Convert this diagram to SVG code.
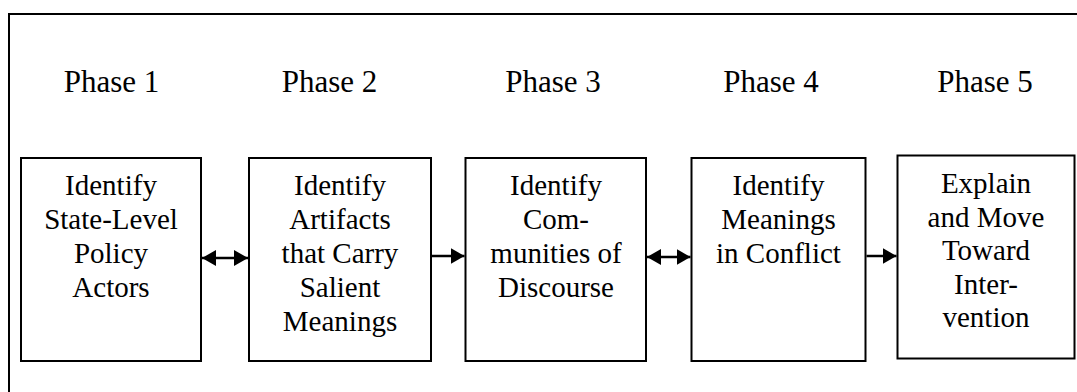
<svg xmlns="http://www.w3.org/2000/svg" width="1077" height="392" viewBox="0 0 1077 392">
<style>
.frame{fill:none;stroke:#000;stroke-width:2}
.box{fill:#fff;stroke:#000;stroke-width:2}
.ph{font-family:"Liberation Serif","Times New Roman",serif;font-size:31px;fill:#000;text-anchor:middle}
.t{font-family:"Liberation Serif","Times New Roman",serif;font-size:29px;fill:#000;text-anchor:middle}
.c{stroke:#000;stroke-width:2.5;fill:none}
</style>
<defs>
<marker id="ah" viewBox="0 0 14 16" refX="14" refY="8" markerWidth="14" markerHeight="16" markerUnits="userSpaceOnUse" orient="auto-start-reverse">
<path d="M0,0 L14,8 L0,16 Z" fill="#000"/>
</marker>
</defs>
<rect width="1077" height="392" fill="#fff"/>
<rect class="frame" x="9" y="14" width="1090" height="400"/>
<g id="phases">
<text class="ph" x="111.5" y="92">Phase 1</text>
<text class="ph" x="329.5" y="92">Phase 2</text>
<text class="ph" x="553" y="92">Phase 3</text>
<text class="ph" x="771" y="92">Phase 4</text>
<text class="ph" x="985" y="92">Phase 5</text>
</g>
<g id="node1">
<rect class="box" x="21" y="158" width="180" height="203"/>
<text class="t" x="111" y="195">Identify</text>
<text class="t" x="111" y="229">State-Level</text>
<text class="t" x="111" y="263">Policy</text>
<text class="t" x="111" y="297">Actors</text>
</g>
<g id="node2">
<rect class="box" x="249" y="158" width="182" height="203"/>
<text class="t" x="340" y="195">Identify</text>
<text class="t" x="340" y="229">Artifacts</text>
<text class="t" x="340" y="263">that Carry</text>
<text class="t" x="340" y="297">Salient</text>
<text class="t" x="340" y="331">Meanings</text>
</g>
<g id="node3">
<rect class="box" x="465.5" y="158" width="180.5" height="203"/>
<text class="t" x="556" y="195">Identify</text>
<text class="t" x="556" y="229">Com-</text>
<text class="t" x="556" y="263">munities of</text>
<text class="t" x="556" y="297">Discourse</text>
</g>
<g id="node4">
<rect class="box" x="691.5" y="158" width="174" height="203"/>
<text class="t" x="778.5" y="195">Identify</text>
<text class="t" x="778.5" y="229">Meanings</text>
<text class="t" x="778.5" y="263">in Conflict</text>
</g>
<g id="node5">
<rect class="box" x="897.5" y="155.5" width="177" height="203"/>
<text class="t" x="986" y="193">Explain</text>
<text class="t" x="986" y="226.5">and Move</text>
<text class="t" x="986" y="260">Toward</text>
<text class="t" x="986" y="294">Inter-</text>
<text class="t" x="986" y="327">vention</text>
</g>
<g id="connectors">
<line class="c" x1="202" y1="258" x2="248" y2="258" marker-start="url(#ah)" marker-end="url(#ah)"/>
<line class="c" x1="432" y1="256" x2="464.5" y2="256" marker-end="url(#ah)"/>
<line class="c" x1="647" y1="257" x2="690.5" y2="257" marker-start="url(#ah)" marker-end="url(#ah)"/>
<line class="c" x1="866.5" y1="256" x2="896.5" y2="256" marker-end="url(#ah)"/>
</g>
</svg>
